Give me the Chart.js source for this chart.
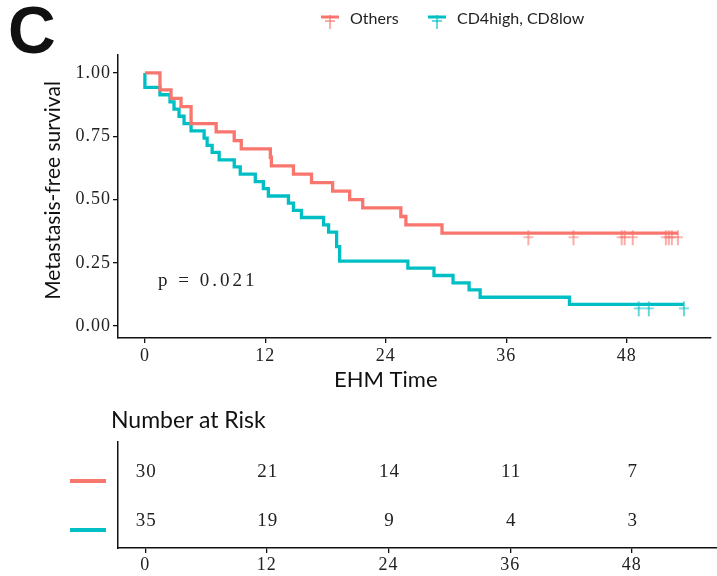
<!DOCTYPE html>
<html lang="en">
<head>
<meta charset="UTF-8">
<script src="https://cdn.jsdelivr.net/npm/chart.js"></script>
<title>Metastasis-free survival</title>
<style>
  * { margin: 0; padding: 0; box-sizing: border-box; }
  body { background: #fff; }
  #wrap { position: relative; width: 717px; height: 576px; background: #fff; overflow: hidden; }
  canvas { position: absolute; left: 0; }
  #panelC {
    position: absolute; left: 8px; top: -8px;
    font-family: 'Liberation Sans', sans-serif; font-weight: bold; font-size: 66px; color: #111;
  }
  .leg {
    position: absolute; top: 7px; height: 24px;
    display: flex; align-items: flex-start;
    font-family: Lato, sans-serif; font-size: 16px; color: #222;
  }
  .leg svg { margin-right: 10px; }
  .leg span { line-height: 22px; }
  #riskTitle {
    position: absolute; left: 111px; top: 405px; z-index: 2;
    font-family: Lato, sans-serif; font-size: 23px; color: #111;
  }
</style>
</head>
<body>
<div id="wrap">
  <canvas id="km" width="717" height="400" style="top:0"></canvas>
  <canvas id="risk" width="717" height="176" style="top:400px"></canvas>
  <div id="panelC">C</div>
  <div class="leg" style="left:320px">
    <svg width="20" height="26"><line x1="1" y1="10" x2="19" y2="10" stroke="#F8766D" stroke-width="3"/><line x1="10" y1="8" x2="10" y2="22" stroke="#F8766D" stroke-width="1.2"/><line x1="5" y1="14" x2="15" y2="14" stroke="#F8766D" stroke-width="1.2"/></svg>
    <span>Others</span>
  </div>
  <div class="leg" style="left:427px">
    <svg width="20" height="26"><line x1="1" y1="10" x2="19" y2="10" stroke="#00BFC4" stroke-width="3"/><line x1="10" y1="8" x2="10" y2="22" stroke="#00BFC4" stroke-width="1.2"/><line x1="5" y1="14" x2="15" y2="14" stroke="#00BFC4" stroke-width="1.2"/></svg>
    <span>CD4high, CD8low</span>
  </div>
  <div id="riskTitle">Number at Risk</div>
</div>

<script>
// data block
const groups = ['Others', 'CD4high, CD8low'];
const colors = ['#F8766D', '#00BFC4'];

const othersTime = [0, 1.5, 2.6, 3.6, 4.6, 7.1, 8.9, 9.6, 12.5, 12.6, 14.8, 16.6, 18.7, 20.4, 21.7, 25.5, 26.0, 29.6, 53.1];
const othersSurv = [1, 0.933, 0.9, 0.867, 0.8, 0.767, 0.733, 0.7, 0.667, 0.633, 0.6, 0.567, 0.533, 0.5, 0.467, 0.433, 0.4, 0.367, 0.367];
const othersCensTime = [38.2, 42.7, 47.5, 47.8, 48.6, 51.9, 52.2, 52.5, 53.1];
const othersCensSurv = [0.367, 0.367, 0.367, 0.367, 0.367, 0.367, 0.367, 0.367, 0.367];

const cd4Time = [0, 0, 1.5, 2.5, 2.9, 3.4, 3.9, 4.6, 5.9, 6.2, 6.7, 7.4, 8.9, 9.5, 11.0, 11.8, 12.3, 14.3, 14.8, 15.6, 17.8, 18.3, 19.1, 19.4, 26.2, 28.8, 30.7, 32.3, 33.4, 42.3, 53.7];
const cd4Surv = [1, 0.943, 0.914, 0.886, 0.857, 0.829, 0.8, 0.771, 0.743, 0.714, 0.686, 0.657, 0.629, 0.6, 0.571, 0.543, 0.514, 0.486, 0.457, 0.429, 0.4, 0.371, 0.314, 0.257, 0.229, 0.2, 0.171, 0.143, 0.114, 0.086, 0.086];
const cd4CensTime = [49.2, 50.2, 53.7];
const cd4CensSurv = [0.086, 0.086, 0.086];

const xTicks = [0, 12, 24, 36, 48];
const yTicks = [0, 0.25, 0.5, 0.75, 1];

const riskTimes = [0, 12, 24, 36, 48];
const othersRisk = [30, 21, 14, 11, 7];
const cd4Risk = [35, 19, 9, 4, 3];

const pLabel = 'p = 0.021';
const pPos = [1.3, 0.18];

// helpers
const toPoints = (xs, ys) => xs.map((x, i) => ({ x: x, y: ys[i] }));

// censor mark: thin cross hanging just under the curve
function crossMark(color) {
  const c = document.createElement('canvas');
  c.width = 12; c.height = 30;
  const g = c.getContext('2d');
  g.strokeStyle = color;
  g.lineWidth = 1.2;
  g.beginPath();
  g.moveTo(6, 12); g.lineTo(6, 27);
  g.moveTo(1, 19); g.lineTo(11, 19);
  g.stroke();
  return c;
}

const tickFont = { family: 'Liberation Serif', size: 18 };
const axisBorder = { display: true, color: '#111', width: 1.5 };

// main chart
const kmDecor = {
  id: 'kmDecor',
  beforeDraw(chart) { chart.ctx.letterSpacing = '1px'; },
  afterDraw(chart) {
    const { ctx, chartArea, scales: { x, y } } = chart;
    ctx.save();
    ctx.fillStyle = '#222';
    ctx.letterSpacing = '3px';
    ctx.font = '19px "Liberation Serif"';
    ctx.textBaseline = 'middle';
    ctx.textAlign = 'left';
    ctx.fillText(pLabel, x.getPixelForValue(pPos[0]), y.getPixelForValue(pPos[1]));

    ctx.letterSpacing = '0px';
    ctx.fillStyle = '#111';
    ctx.font = '22px Lato';
    ctx.textAlign = 'center';
    const mid = (xTicks[0] + xTicks[xTicks.length - 1]) / 2;
    ctx.fillText('EHM Time', x.getPixelForValue(mid), x.bottom - 20);

    ctx.font = '21px Lato';
    ctx.translate(53, (chartArea.top + chartArea.bottom) / 2 - 6);
    ctx.rotate(-Math.PI / 2);
    ctx.fillText('Metastasis-free survival', 0, 0);
    ctx.restore();
  }
};

new Chart(document.getElementById('km'), {
  type: 'line',
  data: {
    datasets: [
      { label: groups[0] + ' censored', data: toPoints(othersCensTime, othersCensSurv), showLine: false,
        pointStyle: crossMark(colors[0]), pointRadius: 5, order: 0 },
      { label: groups[1] + ' censored', data: toPoints(cd4CensTime, cd4CensSurv), showLine: false,
        pointStyle: crossMark(colors[1]), pointRadius: 5, order: 0 },
      { label: groups[0], data: toPoints(othersTime, othersSurv), stepped: 'before',
        borderColor: colors[0], borderWidth: 3.3, pointRadius: 0, order: 1 },
      { label: groups[1], data: toPoints(cd4Time, cd4Surv), stepped: 'before',
        borderColor: colors[1], borderWidth: 3.3, pointRadius: 0, order: 2 }
    ]
  },
  options: {
    responsive: false,
    animation: false,
    devicePixelRatio: 1,
    layout: { padding: { top: 55, left: 0, right: 0, bottom: 0 } },
    plugins: { legend: { display: false }, tooltip: { enabled: false } },
    scales: {
      x: {
        type: 'linear', min: -2.68, max: 56.4,
        afterBuildTicks: s => { s.ticks = xTicks.map(v => ({ value: v })); },
        afterFit: s => { s.height = 62; },
        grid: { drawOnChartArea: false, drawTicks: true, tickLength: 5, color: '#111', lineWidth: 1.3 },
        border: axisBorder,
        ticks: { font: tickFont, color: '#222', padding: 2, maxRotation: 0 }
      },
      y: {
        type: 'linear', min: -0.047, max: 1.071,
        afterBuildTicks: s => { s.ticks = yTicks.map(v => ({ value: v })); },
        afterFit: s => { s.width = 118; },
        grid: { drawOnChartArea: false, drawTicks: true, tickLength: 5, color: '#111', lineWidth: 1.3 },
        border: axisBorder,
        ticks: { font: tickFont, color: '#222', padding: 2, callback: v => v.toFixed(2) }
      }
    }
  },
  plugins: [kmDecor]
});

// risk table
const riskDecor = {
  id: 'riskDecor',
  beforeDraw(chart) { chart.ctx.letterSpacing = '1px'; },
  afterDatasetsDraw(chart) {
    const { ctx, scales: { y } } = chart;
    ctx.save();
    ctx.font = '19px "Liberation Serif"';
    ctx.fillStyle = '#222';
    ctx.textAlign = 'center';
    ctx.textBaseline = 'middle';
    chart.data.datasets.forEach((ds, i) => {
      const meta = chart.getDatasetMeta(i);
      meta.data.forEach((pt, j) => ctx.fillText(String(ds.data[j].n), pt.x + 1, pt.y));
      // colour key to the left of each row
      const rowY = y.getPixelForValue(ds.data[0].y) + 9;
      ctx.strokeStyle = colors[i];
      ctx.lineWidth = 4;
      ctx.beginPath();
      ctx.moveTo(70, rowY);
      ctx.lineTo(106, rowY);
      ctx.stroke();
    });
    ctx.restore();
  }
};

const riskRows = [2, 1];
new Chart(document.getElementById('risk'), {
  type: 'scatter',
  data: {
    datasets: [
      { label: groups[0], data: riskTimes.map((t, i) => ({ x: t, y: riskRows[0], n: othersRisk[i] })), pointRadius: 0 },
      { label: groups[1], data: riskTimes.map((t, i) => ({ x: t, y: riskRows[1], n: cd4Risk[i] })), pointRadius: 0 }
    ]
  },
  options: {
    responsive: false,
    animation: false,
    devicePixelRatio: 1,
    layout: { padding: { top: 42, left: 0, right: 0, bottom: 0 } },
    plugins: { legend: { display: false }, tooltip: { enabled: false } },
    scales: {
      x: {
        type: 'linear', min: -2.68, max: 56.4,
        afterBuildTicks: s => { s.ticks = riskTimes.map(v => ({ value: v })); },
        afterFit: s => { s.height = 28; },
        grid: { drawOnChartArea: false, drawTicks: true, tickLength: 5, color: '#111', lineWidth: 1.3 },
        border: axisBorder,
        ticks: { font: tickFont, color: '#222', padding: 1, maxRotation: 0 }
      },
      y: {
        type: 'linear', min: 0.45, max: 2.61,
        afterFit: s => { s.width = 118; },
        grid: { display: false },
        border: axisBorder,
        ticks: { display: false }
      }
    }
  },
  plugins: [riskDecor]
});
</script>
</body>
</html>
